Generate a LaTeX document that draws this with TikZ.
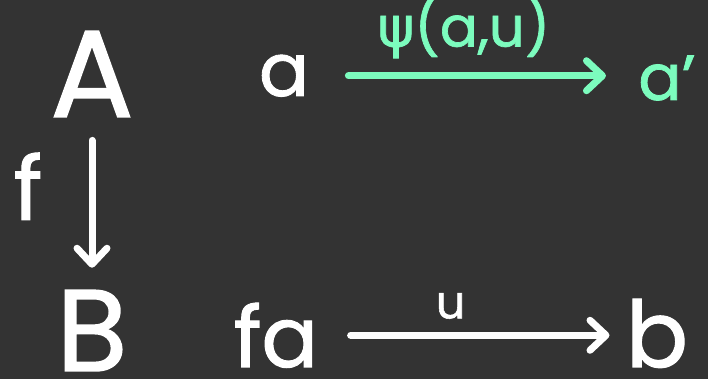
\documentclass[tikz,border=0pt]{standalone}
\usepackage{fontspec}
\setmainfont{Poppins}[FakeBold=1.2]
\newfontfamily\greekfont{DejaVu Sans}[FakeBold=1.2]
\usepackage{xcolor}
\usetikzlibrary{positioning,arrows.meta,calc}
\definecolor{board}{HTML}{333333}
\definecolor{mint}{HTML}{7CFCBE}

\begin{document}
\begin{tikzpicture}[x=0.5pt,y=-0.5pt,>={Straight Barb[length=8pt,width=15pt,round]},
  obj/.style={inner sep=0pt,anchor=base,text=white},
  lab/.style={inner sep=0pt,text=white},
  map/.style={->,line width=3.5pt,line cap=round,white}]
\fill[board] (0,0) rectangle (708,379);
\useasboundingbox (0,0) rectangle (708,379);
% objects
\node[obj,font=\fontsize{62}{62}\selectfont] (A) at (92,117) {A};
\node[obj,font=\fontsize{58}{58}\selectfont] (B) at (92,371) {B};
\draw[map,shorten <=11.5pt,shorten >=11pt] (A) -- node[lab,pos=0.4,left=23pt,font=\fontsize{44}{44}\selectfont] (f) {f} (B);
% elements
\node[obj,font=\fontsize{37}{37}\selectfont] (a) at (284,96) {a};
\node[obj,text=mint,font=\fontsize{32}{32}\selectfont] (a2) at (667,100) {a’};
\draw[map,mint,shorten <=19.5pt,shorten >=16pt] (a.east) -- node[lab,text=mint,above=7pt,pos=0.47,font=\fontsize{28}{28}\selectfont] (phi) {{\greekfont ψ}(a,u)} (a.east -| a2.west);
\node[obj,font=\fontsize{42}{42}\selectfont] (fa) at (276,367) {fa};
\node[obj,font=\fontsize{46}{46}\selectfont] (b) at (657,367) {b};
\draw[map,shorten <=16pt,shorten >=8pt] (fa.east) -- node[lab,above=6.5pt,pos=0.43,font=\fontsize{23}{23}\selectfont] (u) {u} (fa.east -| b.west);
\end{tikzpicture}
\end{document}
